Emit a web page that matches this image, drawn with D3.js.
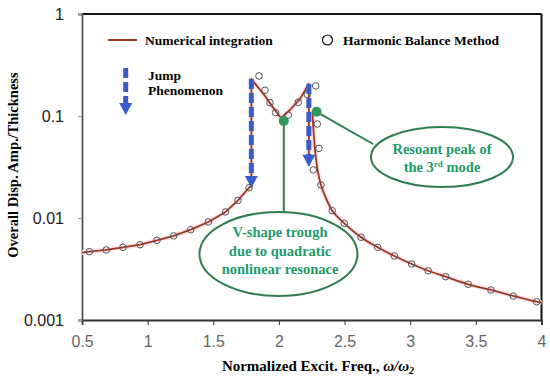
<!DOCTYPE html>
<html>
<head>
<meta charset="utf-8">
<script src="https://cdn.jsdelivr.net/npm/d3@7"></script>
<style>
  body { margin: 0; background: #fff; }
  svg { display: block; }
  .tick text { font-family: "Liberation Sans", Arial, sans-serif; }
  .lbl { font-family: "Liberation Serif", "Times New Roman", serif; font-weight: bold; }
</style>
</head>
<body>
<svg></svg>
<script>
const width = 550;
const height = 382;

// numerical integration curve
const lowerX = [0.5, 0.556, 0.685, 0.812, 0.942, 1.071, 1.198, 1.328, 1.462, 1.594, 1.688, 1.772, 1.79];
const lowerY = [0.00457, 0.00468, 0.00486, 0.00516, 0.00547, 0.00604, 0.00667, 0.00768, 0.00914, 0.01146, 0.0149, 0.0198, 0.0206];
const upperX = [1.79, 1.894, 1.947, 2.016, 2.084, 2.16, 2.228, 2.228];
const upperY = [0.2306, 0.157, 0.125, 0.0955, 0.1145, 0.147, 0.206, 0.0323];
const rightX = [2.256, 2.263, 2.275, 2.294, 2.32, 2.358, 2.406, 2.498, 2.625, 2.752, 2.879, 3.011, 3.137, 3.27, 3.442, 3.615, 3.785, 3.963, 4.0];
const rightY = [0.107, 0.0729, 0.0464, 0.0296, 0.0211, 0.0157, 0.0118, 0.00887, 0.00648, 0.00516, 0.00424, 0.00354, 0.00304, 0.00266, 0.00224, 0.00197, 0.00172, 0.00151, 0.00148];

// harmonic balance method points
const hbmX = [0.556, 0.685, 0.812, 0.942, 1.071, 1.198, 1.328, 1.462, 1.594, 1.688, 1.772,
  1.848, 1.894, 1.932, 1.975, 2.071, 2.147, 2.216, 2.28,
  2.292, 2.305, 2.262, 2.32,
  2.406, 2.498, 2.625, 2.752, 2.879, 3.011, 3.137, 3.27, 3.442, 3.615, 3.785, 3.963];
const hbmY = [0.00468, 0.00486, 0.00516, 0.00547, 0.00604, 0.00667, 0.00768, 0.00914, 0.01146, 0.0149, 0.0198,
  0.247, 0.179, 0.135, 0.108, 0.102, 0.136, 0.163, 0.197,
  0.0835, 0.0482, 0.0296, 0.0211,
  0.0118, 0.00887, 0.00648, 0.00516, 0.00424, 0.00354, 0.00304, 0.00266, 0.00224, 0.00197, 0.00172, 0.00151];

// jump arrows and marked points
const jumpX = [1.79, 2.228];
const jumpFrom = [0.2306, 0.206];
const jumpTo = [0.0197, 0.0318];
const markX = [2.037, 2.287];
const markY = [0.0893, 0.110];

const xTicks = [0.5, 1, 1.5, 2, 2.5, 3, 3.5, 4];
const yTicks = [0.001, 0.01, 0.1, 1];

const plotLeft = 82, plotRight = 541.5, plotTop = 14, plotBottom = 320;
const lineColor = '#9a3b1c';
const blue = '#3a5bcc';
const green = '#2f7d52';
const greenText = '#1f9a6b';

const svg = d3.select('svg')
  .attr('width', width)
  .attr('height', height);

const xScale = d3.scaleLinear().domain([0.5, 4]).range([plotLeft, plotRight]);
const yScale = d3.scaleLog().domain([0.001, 1]).range([plotBottom, plotTop]);

// ====================================
// Frame and axes
// ====================================
svg.append('line')
  .attr('x1', plotLeft).attr('x2', plotRight).attr('y1', plotTop).attr('y2', plotTop)
  .attr('stroke', '#111').attr('stroke-width', 2);
svg.append('line')
  .attr('x1', plotRight).attr('x2', plotRight).attr('y1', plotTop).attr('y2', plotBottom)
  .attr('stroke', '#111').attr('stroke-width', 2);

const xAxis = svg.append('g')
  .attr('transform', `translate(0, ${plotBottom})`)
  .call(d3.axisBottom(xScale).tickValues(xTicks).tickFormat(d => String(d)).tickSize(5).tickPadding(11));
xAxis.select('.domain').attr('stroke', '#333').attr('stroke-width', 1.8);
xAxis.selectAll('.tick line').attr('stroke', '#333');
xAxis.selectAll('.tick text').attr('font-size', 16).attr('fill', '#666');

const yAxis = svg.append('g')
  .attr('transform', `translate(${plotLeft}, 0)`)
  .call(d3.axisLeft(yScale).tickValues(yTicks).tickFormat(d => String(d)).tickSize(4).tickPadding(14));
yAxis.select('.domain').attr('stroke', '#555').attr('stroke-width', 1.8);
yAxis.selectAll('.tick line').attr('stroke', '#999');
yAxis.selectAll('.tick text').attr('font-size', 16).attr('fill', '#222');

svg.append('text')
  .attr('class', 'lbl')
  .attr('transform', 'translate(18, 165) rotate(-90)')
  .attr('text-anchor', 'middle')
  .attr('font-size', 14.5)
  .text('Overall Disp. Amp./Thickness');

const xTitle = svg.append('text')
  .attr('class', 'lbl')
  .attr('x', 318).attr('y', 371)
  .attr('text-anchor', 'middle')
  .attr('font-size', 15);
xTitle.append('tspan').text('Normalized Excit. Freq.,  ');
xTitle.append('tspan').attr('font-style', 'italic').text('ω/ω');
xTitle.append('tspan').attr('font-style', 'italic').attr('font-size', 10).attr('dy', 3).text('2');

// ====================================
// Numerical integration curve
// ====================================
const zip = (xs, ys) => xs.map((x, i) => [x, ys[i]]);
const linear = d3.line().x(d => xScale(d[0])).y(d => yScale(d[1]));
const smooth = d3.line().x(d => xScale(d[0])).y(d => yScale(d[1])).curve(d3.curveCatmullRom.alpha(0.5));

const pathA = zip(lowerX, lowerY).concat(zip(upperX, upperY));
const pathB = zip(rightX, rightY);

[['#ffe3ef', 5], [lineColor, 1.8]].forEach(([c, w]) => {
  svg.append('path').attr('d', linear(pathA)).attr('fill', 'none')
    .attr('stroke', c).attr('stroke-width', w).attr('stroke-linejoin', 'round');
  svg.append('path').attr('d', smooth(pathB)).attr('fill', 'none')
    .attr('stroke', c).attr('stroke-width', w).attr('stroke-linejoin', 'round');
});

// ====================================
// Harmonic balance points
// ====================================
svg.selectAll('circle.hbm')
  .data(zip(hbmX, hbmY))
  .enter()
  .append('circle')
  .attr('class', 'hbm')
  .attr('cx', d => xScale(d[0]))
  .attr('cy', d => yScale(d[1]))
  .attr('r', 3.3)
  .attr('fill', 'none')
  .attr('stroke', '#555')
  .attr('stroke-width', 1);

// ====================================
// Jump arrows
// ====================================
function arrow(g, x, y1, y2) {
  g.append('line')
    .attr('x1', x).attr('x2', x).attr('y1', y1).attr('y2', y2 - 10)
    .attr('stroke', blue).attr('stroke-width', 5).attr('stroke-dasharray', '10,4');
  g.append('path')
    .attr('d', `M${x - 6.5},${y2 - 12}L${x + 6.5},${y2 - 12}L${x},${y2}Z`)
    .attr('fill', blue);
}
jumpX.forEach((jx, i) => arrow(svg, xScale(jx), yScale(jumpFrom[i]), yScale(jumpTo[i])));

// ====================================
// Annotations
// ====================================
const m1 = [xScale(markX[0]), yScale(markY[0])];
const m2 = [xScale(markX[1]), yScale(markY[1])];

svg.append('line')
  .attr('x1', m1[0]).attr('y1', m1[1]).attr('x2', m1[0]).attr('y2', 212)
  .attr('stroke', green).attr('stroke-width', 2);
svg.append('line')
  .attr('x1', m2[0]).attr('y1', m2[1]).attr('x2', 373).attr('y2', 144)
  .attr('stroke', green).attr('stroke-width', 2);

svg.append('ellipse')
  .attr('cx', 278.5).attr('cy', 254).attr('rx', 79).attr('ry', 42)
  .attr('fill', '#fff').attr('stroke', green).attr('stroke-width', 2);
svg.append('ellipse')
  .attr('cx', 442).attr('cy', 157).attr('rx', 71).attr('ry', 30)
  .attr('fill', '#fff').attr('stroke', green).attr('stroke-width', 2);

[m1, m2].forEach(p => {
  svg.append('circle').attr('cx', p[0]).attr('cy', p[1]).attr('r', 5).attr('fill', '#2f9a55');
});

const note1 = ['V-shape trough', 'due to quadratic', 'nonlinear resonace'];
note1.forEach((t, i) => {
  svg.append('text').attr('class', 'lbl')
    .attr('x', 280).attr('y', 237 + i * 18.5)
    .attr('text-anchor', 'middle').attr('font-size', 14.5)
    .attr('fill', greenText).text(t);
});

svg.append('text').attr('class', 'lbl')
  .attr('x', 442).attr('y', 153.5)
  .attr('text-anchor', 'middle').attr('font-size', 14.5)
  .attr('fill', greenText).text('Resoant peak of');
const n2 = svg.append('text').attr('class', 'lbl')
  .attr('x', 442).attr('y', 171.5)
  .attr('text-anchor', 'middle').attr('font-size', 14.5)
  .attr('fill', greenText);
n2.append('tspan').text('the 3');
n2.append('tspan').attr('font-size', 9).attr('dy', -5).text('rd');
n2.append('tspan').attr('dy', 5).text(' mode');

// =================================
// Legend
// =================================
svg.append('line')
  .attr('x1', 108).attr('x2', 137).attr('y1', 40).attr('y2', 40)
  .attr('stroke', lineColor).attr('stroke-width', 2);
svg.append('text').attr('class', 'lbl')
  .attr('x', 145).attr('y', 45).attr('font-size', 13.5)
  .text('Numerical integration');

svg.append('circle')
  .attr('cx', 327.5).attr('cy', 40).attr('r', 5)
  .attr('fill', 'none').attr('stroke', '#111').attr('stroke-width', 1.2);
svg.append('text').attr('class', 'lbl')
  .attr('x', 343).attr('y', 45).attr('font-size', 13.5)
  .text('Harmonic Balance Method');

arrow(svg, 125.7, 68, 115);
svg.append('text').attr('class', 'lbl')
  .attr('x', 148).attr('y', 80).attr('font-size', 13.5)
  .text('Jump');
svg.append('text').attr('class', 'lbl')
  .attr('x', 148).attr('y', 95).attr('font-size', 13.5)
  .text('Phenomenon');
</script>
</body>
</html>
